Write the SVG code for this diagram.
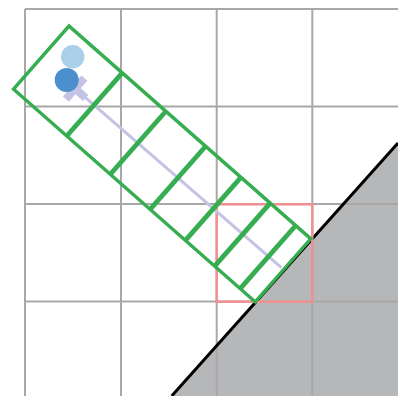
<svg xmlns="http://www.w3.org/2000/svg" width="398" height="396" viewBox="0 0 398 396">
<style>
.grid{stroke:#a8a8a8;stroke-width:2;fill:none}
.green{stroke:#35ad50;fill:none;stroke-linejoin:miter}
</style>
<rect width="398" height="396" fill="#fff"/>
<g id="obstacle">
<polygon points="171.7,396 398,143 398,396" fill="#b6b7b9"/>
</g>
<g id="grid" class="grid">
<line x1="25" y1="9" x2="398" y2="9"/>
<line x1="25" y1="106.5" x2="398" y2="106.5"/>
<line x1="25" y1="204" x2="398" y2="204"/>
<line x1="25" y1="301.5" x2="398" y2="301.5"/>
<line x1="25" y1="9" x2="25" y2="396"/>
<line x1="121" y1="9" x2="121" y2="396"/>
<line x1="216.7" y1="9" x2="216.7" y2="396"/>
<line x1="312.3" y1="9" x2="312.3" y2="396"/>
</g>
<g id="boundary">
<line x1="171.7" y1="396" x2="398" y2="143" stroke="#000" stroke-width="3"/>
</g>
<g id="cell">
<rect x="216.7" y="204.3" width="95.6" height="97.4" fill="none" stroke="#f29090" stroke-width="2.5"/>
</g>
<g id="connectors">
<g transform="translate(69,26) rotate(41.35)">
<line x1="46" y1="43" x2="319" y2="41" stroke="#c3c3e3" stroke-width="3"/>
</g>
</g>
<g id="robot" transform="translate(69,26) rotate(41.35)">
<path d="M32,39 h10 v-10 h8 v10 h10 v8 h-10 v10 h-8 v-10 h-10 z" fill="#c3c3e3"/>
</g>
<g id="start">
<circle cx="72.7" cy="56.7" r="11.7" fill="#a9cfe9"/>
<circle cx="66.7" cy="80" r="12" fill="#4b8fcc"/>
</g>
<g id="swept" transform="translate(69,26) rotate(41.35)">
<rect x="0" y="0" width="322" height="84" class="green" stroke-width="3.4"/>
<g class="green" stroke-width="4.8">
<line x1="71" y1="0" x2="71" y2="84"/>
<line x1="129" y1="0" x2="129" y2="84"/>
<line x1="182" y1="0" x2="182" y2="84"/>
<line x1="229" y1="0" x2="229" y2="84"/>
<line x1="268" y1="0" x2="268" y2="84"/>
<line x1="302" y1="0" x2="302" y2="84"/>
</g>
</g>
</svg>
